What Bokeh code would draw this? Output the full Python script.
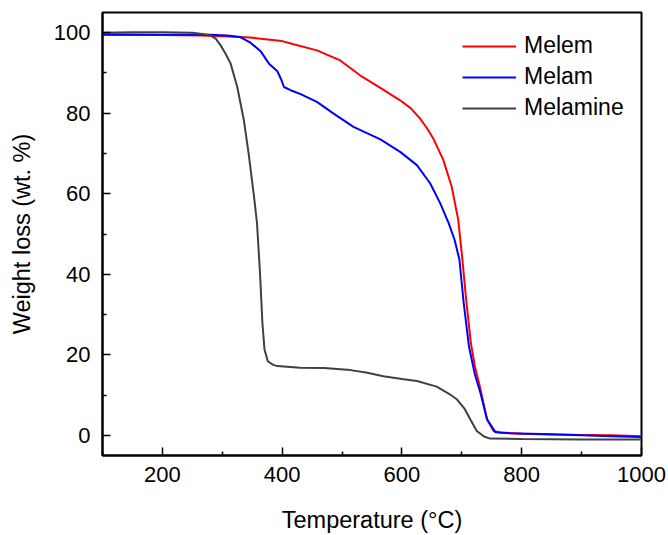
from bokeh.plotting import figure
from bokeh.models import FixedTicker, Range1d, Legend, LegendItem
from bokeh.embed import file_html
from bokeh.resources import INLINE

# ---- data ----
melem_temp = [100, 200, 264, 300, 347, 364, 400, 419, 458, 497, 530, 564, 597, 615, 630, 643, 653,
              669, 683, 694, 701, 707, 715, 722, 730, 742, 753, 764, 800, 850, 900, 950, 1000]
melem_wt = [99.4, 99.4, 99.3, 99.1, 98.8, 98.5, 97.9, 97.1, 95.6, 93.1, 89.4, 86.3, 83.2, 81.2, 78.7,
            76.0, 73.5, 68.4, 61.8, 53.5, 43.6, 34.0, 23.0, 17.0, 12.2, 4.0, 1.1, 0.7, 0.4, 0.2,
            0.1, 0.0, -0.2]

melam_temp = [100, 200, 280, 308, 330, 347, 364, 378, 392, 398, 403, 414, 430, 458, 486, 519,
              564, 597, 625, 647, 664, 678, 688, 696, 703, 712, 722, 731, 742, 756, 780, 850,
              900, 950, 1000]
melam_wt = [99.6, 99.5, 99.5, 99.3, 98.9, 97.5, 95.4, 92.3, 90.4, 88.5, 86.5, 85.7, 84.8, 82.8,
            79.9, 76.6, 73.5, 70.4, 67.1, 62.6, 57.6, 52.7, 48.5, 43.6, 33.0, 22.0, 15.0, 10.6,
            4.0, 0.8, 0.5, 0.3, 0.0, -0.2, -0.4]

melamine_temp = [100, 150, 200, 250, 270, 280, 289, 297, 305, 314, 325, 336, 344, 353, 358, 363,
                 367, 370.5, 376, 385, 392, 430, 470, 514, 540, 569, 600, 625, 658, 680, 692,
                 705, 714, 725, 737, 747, 800, 900, 1000]
melamine_wt = [100.0, 100.1, 100.1, 100.0, 99.6, 99.3, 98.5, 96.9, 94.9, 92.3, 86.5, 78.3, 70.0,
               59.3, 52.7, 40.3, 27.9, 21.3, 18.4, 17.5, 17.2, 16.8, 16.7, 16.2, 15.6, 14.7, 14.0,
               13.5, 12.1, 10.2, 8.9, 6.5, 4.0, 1.1, -0.3, -0.8, -0.9, -1.0, -1.0]

series_names = ["Melem", "Melam", "Melamine"]
series_colors = ["#ff0000", "#0000ff", "#404040"]

x_ticks = [200, 400, 600, 800, 1000]
x_minor = [100, 300, 500, 700, 900]
y_ticks = [0, 20, 40, 60, 80, 100]
y_minor = [-10, 10, 30, 50, 70, 90]

FONT = "Liberation Sans"

p = figure(width=668, height=535, output_backend="svg", toolbar_location=None,
           x_range=Range1d(100, 1000), y_range=Range1d(-5, 105),
           min_border_left=102, min_border_right=27, min_border_top=12, min_border_bottom=78)
p.grid.visible = False
p.outline_line_color = "black"
p.outline_line_width = 2
p.background_fill_color = "white"
p.border_fill_color = "white"

renderers = []
for tx, wy, c in zip([melem_temp, melam_temp, melamine_temp],
                     [melem_wt, melam_wt, melamine_wt], series_colors):
    r = p.line(tx, wy, line_color=c, line_width=2)
    renderers.append(r)

p.xaxis.ticker = FixedTicker(ticks=x_ticks, minor_ticks=x_minor)
p.yaxis.ticker = FixedTicker(ticks=y_ticks, minor_ticks=y_minor)

for ax in [p.xaxis[0], p.yaxis[0]]:
    ax.axis_line_width = 2
    ax.axis_line_color = "black"
    ax.major_tick_in = 8
    ax.major_tick_out = 0
    ax.minor_tick_in = 4
    ax.minor_tick_out = 0
    ax.major_tick_line_width = 1.5
    ax.minor_tick_line_width = 1.5
    ax.major_label_text_font = FONT
    ax.major_label_text_font_size = "22px"
    ax.major_label_text_color = "black"
    ax.axis_label_text_font = FONT
    ax.axis_label_text_font_size = "23.5px"
    ax.axis_label_text_font_style = "normal"
    ax.axis_label_text_color = "black"

p.xaxis.axis_label = "Temperature (°C)"
p.yaxis.axis_label = "Weight loss (wt. %)"
p.xaxis.major_label_standoff = 11
p.yaxis.major_label_standoff = 12
p.xaxis.axis_label_standoff = 22
p.yaxis.axis_label_standoff = 16

legend = Legend(items=[LegendItem(label=n, renderers=[r]) for n, r in zip(series_names, renderers)],
                location=(360, 334))
legend.padding = 0
legend.margin = 0
legend.border_line_color = None
legend.background_fill_alpha = 0
legend.glyph_width = 54
legend.glyph_height = 26
legend.label_height = 26
legend.spacing = 4
legend.label_standoff = 8
legend.label_text_font = FONT
legend.label_text_font_size = "23px"
legend.label_text_color = "black"
p.add_layout(legend)

open("out.html", "w").write(file_html(p, INLINE))
